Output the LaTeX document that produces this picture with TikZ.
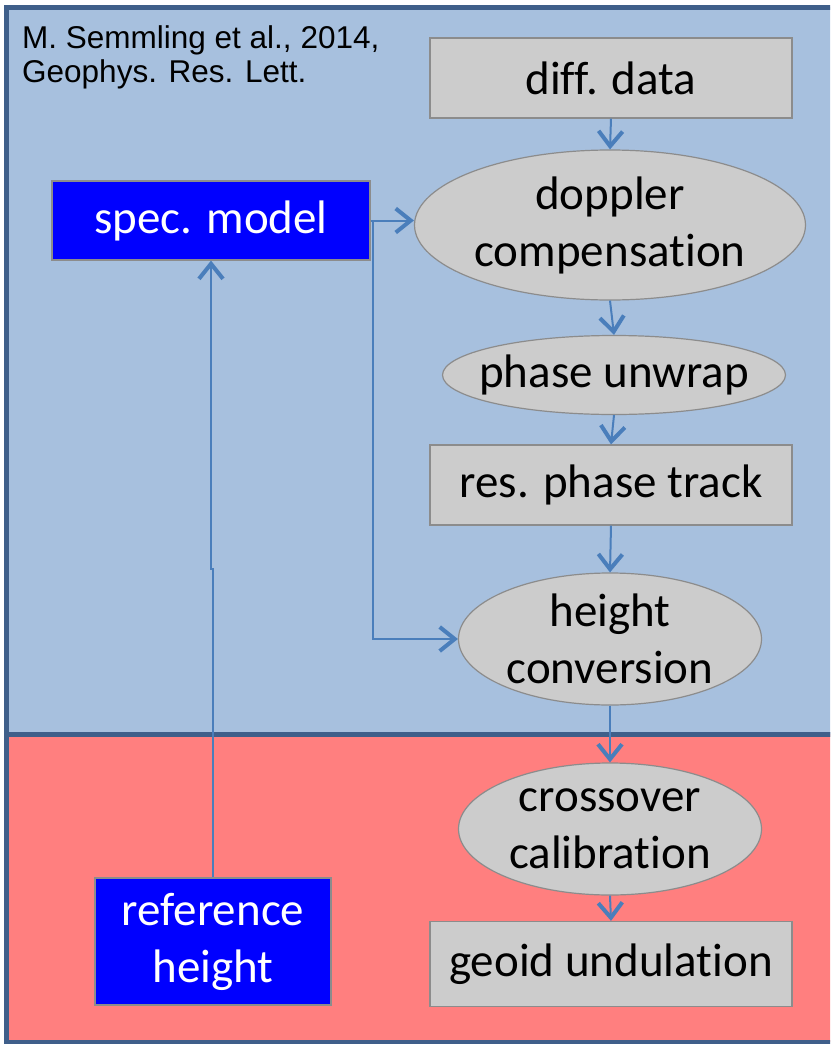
\documentclass[tikz,border=0pt]{standalone}
\usepackage{fontspec}
\setmainfont{Carlito}[Ligatures=CommonOff]
\newfontfamily\citefont{Liberation Sans}
\usetikzlibrary{shapes.geometric,arrows.meta}

\definecolor{panelblue}{RGB}{167,192,222}
\definecolor{panelred}{RGB}{255,127,127}
\definecolor{panelline}{RGB}{63,95,138}
\definecolor{boxgray}{RGB}{204,204,204}
\definecolor{boxline}{RGB}{140,140,140}
\definecolor{flowline}{RGB}{74,126,187}
\definecolor{modelblue}{RGB}{0,0,255}

\tikzset{
  panel/.style={draw=panelline, line width=5pt},
  stepbox/.style={draw=boxline, line width=1.2pt, fill=boxgray, inner sep=0pt,
    align=center, font=\fontsize{47}{57}\selectfont},
  stepell/.style={ellipse, draw=boxline, line width=1.2pt, fill=boxgray,
    inner xsep=-30pt, inner ysep=-12pt, align=center, font=\fontsize{47}{57}\selectfont},
  modelbox/.style={draw=boxline, line width=1.2pt, fill=modelblue, text=white,
    inner sep=0pt, align=center, font=\fontsize{47}{57}\selectfont},
  flow/.style={draw=flowline, line width=2pt,
    -{Straight Barb[length=15pt,width=24pt,line width=4pt]}}
}

\begin{document}
\begin{tikzpicture}[x=1pt,y=-1pt]
\useasboundingbox (0,0) rectangle (830,1044);
\clip (0,0) rectangle (830,1044);

%Panels
\draw[panel, fill=panelblue] (6,7) rectangle (845,734);
\draw[panel, fill=panelred] (6,734) rectangle (845,1042);

%Citation
\node[anchor=north west, inner sep=0pt, align=left,
  font=\citefont\fontsize{31.5}{34}\selectfont] (cite) at (22,25)
  {M. Semmling et al., 2014,\\Geophys. Res. Lett.};

%Processing steps
\node[stepbox, minimum width=362pt, minimum height=80pt] (diff) at (611,78) {diff. data};
\node[stepell, minimum width=391pt, minimum height=150pt] (doppler) at (610,225) {doppler\\compensation};
\node[stepell, minimum width=343pt, minimum height=79pt] (unwrap) at (614,375) {phase unwrap};
\node[stepbox, minimum width=362pt, minimum height=80pt] (track) at (611,485) {res. phase track};
\node[stepell, minimum width=303pt, minimum height=132pt] (conv) at (610,639) {height\\conversion};
\node[stepell, minimum width=303pt, minimum height=132pt] (calib) at (610,829) {crossover\\calibration};
\node[stepbox, minimum width=362pt, minimum height=85pt] (geoid) at (611,964) {geoid undulation};

%Models
\node[modelbox, minimum width=318pt, minimum height=79pt] (spec) at (211,220.5) {spec. model};
\node[modelbox, minimum width=236pt, minimum height=127pt] (refh) at (213,941.5) {reference\\height};

%Straight Lines
\draw[flow] (diff.south) -- (doppler.north);
\draw[flow] (doppler.south) -- (unwrap.north);
\draw[flow] (unwrap.south) -- (track.north);
\draw[flow] (track.south) -- (conv.north);
\draw[flow] (conv.south) -- (calib.north);
\draw[flow] (calib.south) -- (geoid.north);
\draw[flow] (spec.east) -- (spec.east -| doppler.west);
\draw[flow] (spec.east) -- ++(2,0) |- (conv.west);
\draw[flow] (refh.north) -- ++(0,-308) -| (spec.south);

\end{tikzpicture}
\end{document}
